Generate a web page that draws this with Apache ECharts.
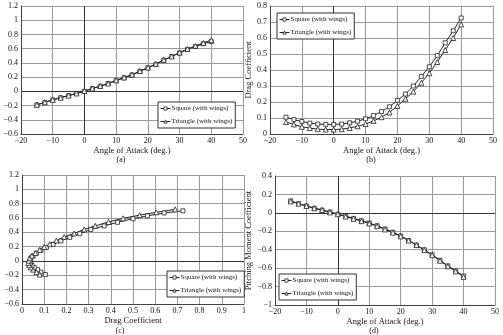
<!DOCTYPE html>
<html>
<head>
<meta charset="utf-8">
<script src="https://cdn.jsdelivr.net/npm/echarts@6/dist/echarts.min.js"></script>
<style>
  html, body { margin: 0; padding: 0; background: #fff; }
  #chart { width: 503px; height: 335px; }
</style>
</head>
<body>
<div id="chart"></div>
<script>
// angle of attack, deg.
const alpha = [-15, -12.5, -10, -7.5, -5, -2.5, 0, 2.5, 5, 7.5, 10, 12.5, 15, 17.5, 20, 22.5, 25, 27.5, 30, 32.5, 35, 37.5, 40];

const liftSquare = [-0.19, -0.155, -0.12, -0.09, -0.06, -0.03, 0.0, 0.04, 0.07, 0.11, 0.15, 0.19, 0.23, 0.28, 0.33, 0.38, 0.44, 0.49, 0.54, 0.59, 0.63, 0.67, 0.70];
const liftTriangle = [-0.19, -0.155, -0.12, -0.09, -0.06, -0.03, 0.005, 0.04, 0.075, 0.11, 0.155, 0.195, 0.235, 0.285, 0.335, 0.385, 0.44, 0.49, 0.545, 0.595, 0.64, 0.68, 0.72];

const dragSquare = [0.105, 0.09, 0.078, 0.068, 0.062, 0.06, 0.06, 0.062, 0.07, 0.08, 0.095, 0.115, 0.14, 0.17, 0.21, 0.25, 0.30, 0.36, 0.42, 0.49, 0.57, 0.645, 0.725];
const dragTriangle = [0.075, 0.06, 0.045, 0.037, 0.03, 0.028, 0.028, 0.03, 0.038, 0.048, 0.062, 0.082, 0.105, 0.135, 0.175, 0.22, 0.265, 0.32, 0.38, 0.45, 0.525, 0.60, 0.685];

const polarDragSquare = [0.105, 0.085, 0.07, 0.055, 0.045, 0.038, 0.036, 0.04, 0.05, 0.065, 0.085, 0.11, 0.14, 0.175, 0.215, 0.26, 0.31, 0.37, 0.43, 0.50, 0.565, 0.64, 0.725];
const polarDragTriangle = [0.08, 0.065, 0.05, 0.04, 0.032, 0.028, 0.03, 0.035, 0.045, 0.06, 0.08, 0.10, 0.125, 0.155, 0.19, 0.235, 0.28, 0.33, 0.39, 0.455, 0.53, 0.605, 0.69];

const momentSquare = [0.13, 0.10, 0.075, 0.05, 0.03, 0.01, -0.015, -0.035, -0.06, -0.085, -0.11, -0.14, -0.175, -0.21, -0.25, -0.30, -0.35, -0.40, -0.455, -0.515, -0.575, -0.63, -0.685];
const momentTriangle = [0.125, 0.10, 0.075, 0.05, 0.03, 0.005, -0.015, -0.04, -0.065, -0.09, -0.115, -0.145, -0.18, -0.215, -0.255, -0.30, -0.35, -0.405, -0.46, -0.52, -0.58, -0.635, -0.695];

const seriesNames = ['Square (with wings)', 'Triangle (with wings)'];
const captions = ['(a)', '(b)', '(c)', '(d)'];

const FONT = 'Liberation Serif';
const INK = '#222';

function pairs(xs, ys) {
    return xs.map((x, i) => [x, ys[i]]);
}

function fmt(v) {
    return String(+v.toFixed(2)).replace('-', '\u2212');
}

function axis(gridIndex, min, max, interval, name, nameGap) {
    return {
        type: 'value',
        gridIndex: gridIndex,
        min: min,
        max: max,
        interval: interval,
        name: name,
        nameLocation: 'middle',
        nameGap: nameGap,
        nameTextStyle: { fontFamily: FONT, fontSize: 8.5, color: '#111' },
        axisLine: { show: true, onZero: false, lineStyle: { color: '#444', width: 1 } },
        axisTick: { show: true, length: 0 },
        axisLabel: { fontFamily: FONT, fontSize: 8, color: '#111', margin: 3, formatter: fmt, hideOverlap: false },
        splitLine: { show: true, showMinLine: true, showMaxLine: true, lineStyle: { color: '#999', width: 1, type: 'solid' } }
    };
}

function line(name, data, gridIndex, zeroLines) {
    const s = {
        name: name,
        type: 'line',
        xAxisIndex: gridIndex,
        yAxisIndex: gridIndex,
        data: data,
        symbol: name === seriesNames[0] ? 'rect' : 'triangle',
        symbolSize: name === seriesNames[0] ? 4 : 5,
        showSymbol: true,
        animation: false,
        z: 3,
        lineStyle: { color: INK, width: 1 },
        itemStyle: { color: '#fff', borderColor: INK, borderWidth: 0.8 }
    };
    if (zeroLines) {
        s.markLine = {
            silent: true,
            symbol: 'none',
            z: 1,
            label: { show: false },
            lineStyle: { color: '#333', width: 1, type: 'solid' },
            data: zeroLines
        };
    }
    return s;
}

function legend(left, top) {
    return {
        data: seriesNames,
        left: left,
        top: top,
        orient: 'vertical',
        itemWidth: 10,
        itemHeight: 4,
        itemGap: 6,
        padding: [3, 3, 3, 2],
        borderColor: '#333',
        borderWidth: 1,
        backgroundColor: '#fff',
        selectedMode: false,
        itemStyle: { color: '#fff', borderColor: INK, borderWidth: 0.8 },
        lineStyle: { color: INK, width: 1 },
        textStyle: { fontFamily: FONT, fontSize: 7, color: '#111', padding: [0, 0, 0, -4] }
    };
}

const grids = [
    { left: 21, top: 6, width: 222, height: 128 },
    { left: 270, top: 6, width: 223, height: 128 },
    { left: 22, top: 175, width: 222, height: 129 },
    { left: 275, top: 176, width: 220, height: 129 }
].map(g => Object.assign(g, { show: false, outerBoundsMode: 'none' }));

const option = {
    backgroundColor: '#fff',
    animation: false,
    grid: grids,
    xAxis: [
        axis(0, -20, 50, 10, 'Angle of Attack (deg.)', 11),
        axis(1, -20, 50, 10, 'Angle of Attack (deg.)', 11),
        axis(2, 0, 1, 0.1, 'Drag Coefficient', 11),
        axis(3, -20, 50, 10, 'Angle of Attack (deg.)', 11)
    ],
    yAxis: [
        axis(0, -0.6, 1.2, 0.2, 'Lift Coefficient', 14),
        axis(1, 0, 0.8, 0.1, 'Drag Coefficient', 14),
        axis(2, -0.6, 1.2, 0.2, 'Lift Coefficient', 15),
        axis(3, -1, 0.4, 0.2, 'Pitching Moment Coefficient', 17)
    ],
    legend: [
        legend(158, 102),
        legend(277, 13),
        legend(167, 271),
        legend(279, 274)
    ],
    graphic: [
        { type: 'text', x: 121, y: 156, style: { text: captions[0], font: '8px ' + FONT, fill: '#111', textAlign: 'center' } },
        { type: 'text', x: 371, y: 156, style: { text: captions[1], font: '8px ' + FONT, fill: '#111', textAlign: 'center' } },
        { type: 'text', x: 120, y: 327, style: { text: captions[2], font: '8px ' + FONT, fill: '#111', textAlign: 'center' } },
        { type: 'text', x: 374, y: 327, style: { text: captions[3], font: '8px ' + FONT, fill: '#111', textAlign: 'center' } }
    ],
    series: [
        line(seriesNames[0], pairs(alpha, liftSquare), 0, [{ xAxis: 0 }, { yAxis: 0 }]),
        line(seriesNames[1], pairs(alpha, liftTriangle), 0),
        line(seriesNames[0], pairs(alpha, dragSquare), 1, [{ xAxis: 0 }]),
        line(seriesNames[1], pairs(alpha, dragTriangle), 1),
        line(seriesNames[0], pairs(polarDragSquare, liftSquare), 2, [{ yAxis: 0 }]),
        line(seriesNames[1], pairs(polarDragTriangle, liftTriangle), 2),
        line(seriesNames[0], pairs(alpha, momentSquare), 3, [{ xAxis: 0 }, { yAxis: 0 }]),
        line(seriesNames[1], pairs(alpha, momentTriangle), 3)
    ]
};

const chart = echarts.init(document.getElementById('chart'), null, { renderer: 'canvas' });
chart.setOption(option);
</script>
</body>
</html>
